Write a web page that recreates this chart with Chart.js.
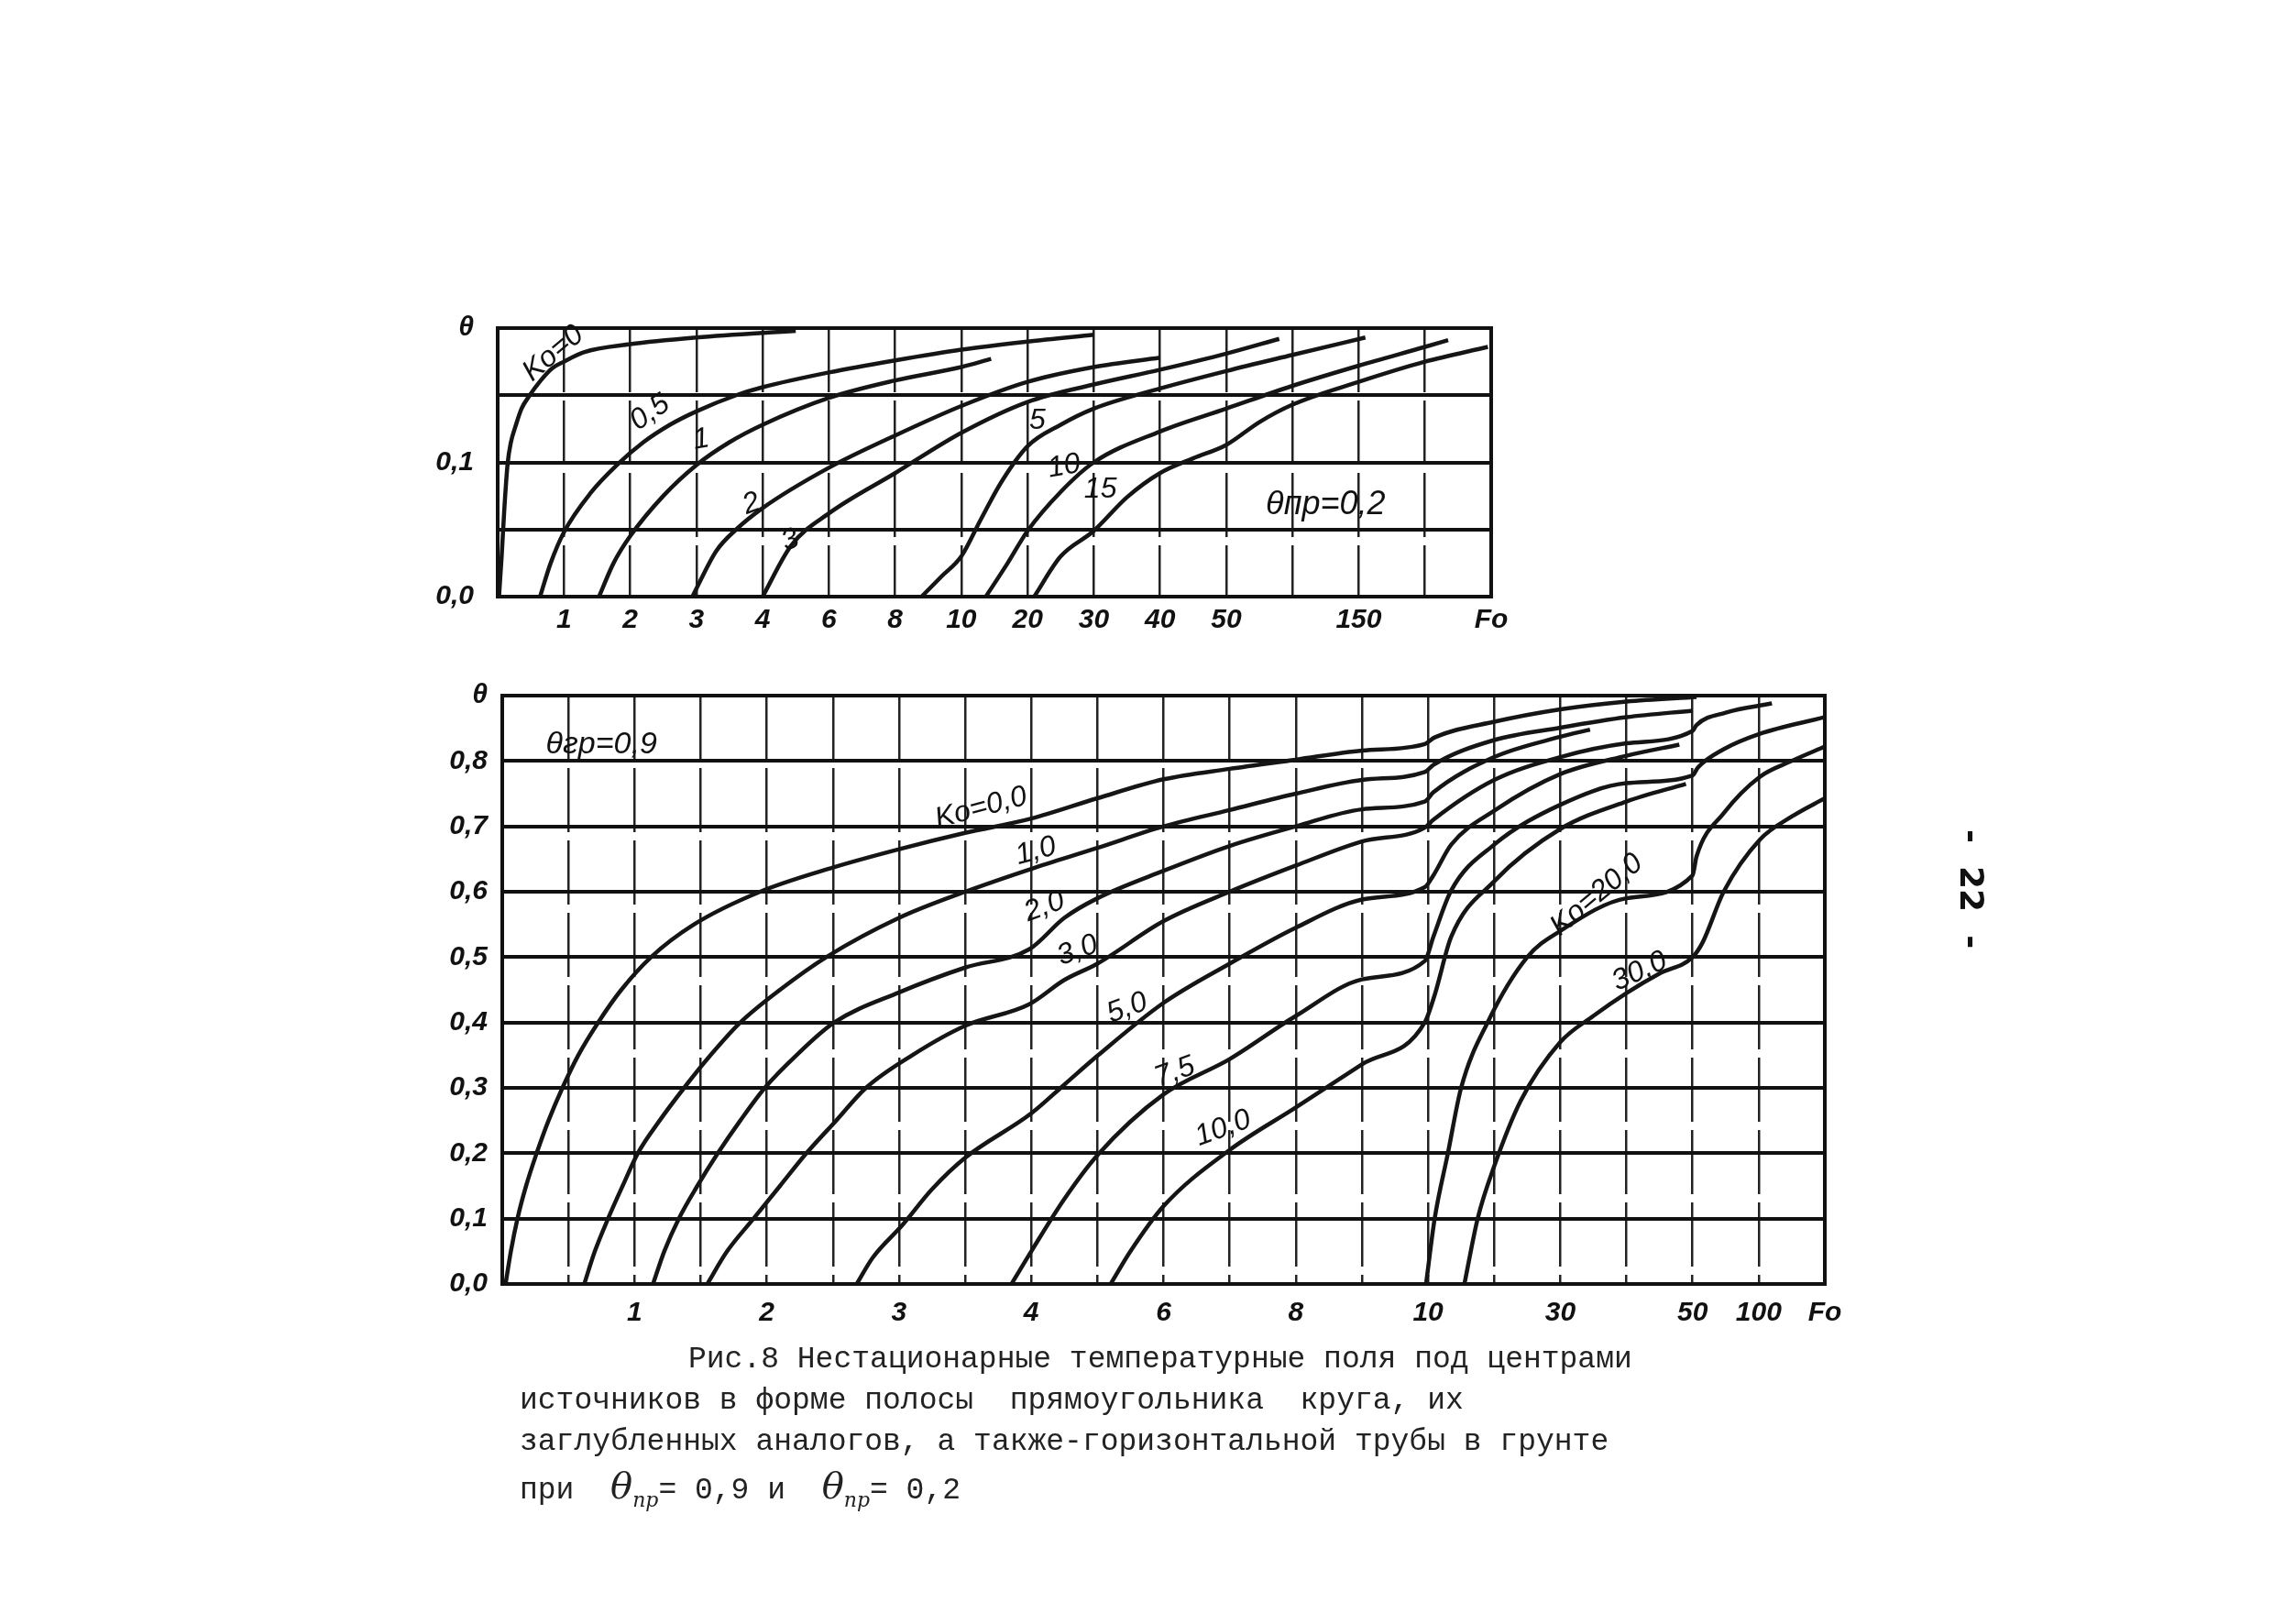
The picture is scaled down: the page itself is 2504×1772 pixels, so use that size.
<!DOCTYPE html>
<html lang="ru">
<head>
<meta charset="utf-8">
<script src="https://cdn.jsdelivr.net/npm/chart.js@4.4.1/dist/chart.umd.min.js"></script>
<style>
  html, body { margin: 0; padding: 0; background: #fff; }
  #page { position: relative; width: 2504px; height: 1772px; overflow: hidden; background: #fff; }
  canvas { position: absolute; left: 0; top: 0; }
  .cap { position: absolute; font-family: "Liberation Mono", "DejaVu Sans Mono", monospace; font-size: 33px; color: #222; white-space: pre; }
  .th { font-family: "DejaVu Serif", serif; font-style: italic; font-size: 40px; }
  .th sub { font-size: 22px; }
  #pnum { position: absolute; left: 2172px; top: 905px; font-family: "DejaVu Sans", sans-serif; font-size: 36px; font-weight: bold; transform: rotate(90deg); transform-origin: left top; white-space: pre; color: #111; }
</style>
</head>
<body>
<div id="page">
  <canvas id="topChart" width="2504" height="1772"></canvas>
  <canvas id="bottomChart" width="2504" height="1772"></canvas>
  <div class="cap" style="left:751px; top:1465px;">Рис.8 Нестационарные температурные поля под центрами</div>
  <div class="cap" style="left:567px; top:1510px;">источников в форме полосы  прямоугольника  круга, их</div>
  <div class="cap" style="left:567px; top:1555px;">заглубленных аналогов, а также-горизонтальной трубы в грунте</div>
  <div class="cap" style="left:567px; top:1598px;">при  <span class="th">θ<sub>пр</sub></span>= 0,9 и  <span class="th">θ<sub>пр</sub></span>= 0,2</div>
  <div id="pnum">-  22  -</div>
</div>
<script>
// x values are positions along the Fo axis in grid cells (the axis is not uniform)
// ---- upper chart, θпр = 0,2 ----
const topXLabels = ['', '1', '2', '3', '4', '6', '8', '10', '20', '30', '40', '50', '', '150', '', 'Fo'];
const topYLabels = ['0,0', '', '0,1', '', 'θ'];

const topKo0 = [[0.02,0],[0.06,0.03],[0.1,0.065],[0.15,0.099],[0.2,0.115],[0.27,0.127],[0.36,0.14],[0.47,0.149],[0.65,0.161],[0.82,0.17],[1.0,0.175],[1.3,0.182],[2.0,0.188],[3.0,0.193],[4.5,0.198]];
const topKo05 = [[0.64,0],[0.8,0.025],[1.0,0.048],[1.4,0.077],[1.8,0.098],[2.2,0.115],[2.6,0.128],[3.0,0.138],[3.6,0.15],[4.0,0.156],[5.0,0.167],[6.0,0.176],[7.0,0.184],[8.0,0.19],[9.0,0.195]];
const topKo1 = [[1.53,0],[1.75,0.025],[2.0,0.045],[2.5,0.075],[3.0,0.098],[3.5,0.115],[4.0,0.128],[5.0,0.148],[6.0,0.161],[7.0,0.171],[7.45,0.177]];
const topKo2 = [[2.94,0],[3.3,0.034],[3.6,0.05],[4.0,0.066],[5.0,0.096],[6.0,0.12],[7.0,0.142],[8.0,0.16],[9.0,0.171],[10.0,0.178]];
const topKo3 = [[4.0,0],[4.43,0.038],[5.0,0.062],[6.0,0.092],[7.0,0.122],[8.0,0.145],[9.0,0.158],[10.0,0.169],[11.0,0.181],[11.8,0.192]];
const topKo5 = [[6.4,0],[6.7,0.015],[7.0,0.03],[7.3,0.058],[7.6,0.085],[8.0,0.112],[8.5,0.128],[9.0,0.14],[10.0,0.155],[11.0,0.168],[12.0,0.18],[13.1,0.193]];
const topKo10 = [[7.37,0],[7.7,0.025],[8.0,0.049],[8.5,0.078],[9.0,0.1],[10.0,0.123],[11.0,0.14],[12.0,0.157],[13.0,0.172],[14.0,0.186],[14.35,0.191]];
const topKo15 = [[8.1,0],[8.5,0.03],[9.0,0.049],[9.5,0.074],[10.0,0.092],[10.5,0.103],[11.0,0.113],[11.5,0.13],[12.0,0.143],[13.0,0.16],[14.0,0.175],[14.95,0.186]];

// ---- lower chart, θгр = 0,9 ----
const bottomXLabels = ['', '', '1', '', '2', '', '3', '', '4', '', '6', '', '8', '', '10', '', '30', '', '50', '100', 'Fo'];
const bottomYLabels = ['0,0', '0,1', '0,2', '0,3', '0,4', '0,5', '0,6', '0,7', '0,8', 'θ'];

const bottomKo0 = [[0.05,0],[0.13,0.05],[0.23,0.1],[0.36,0.15],[0.52,0.2],[0.7,0.25],[0.91,0.3],[1.15,0.35],[1.45,0.4],[1.8,0.45],[2.25,0.5],[2.9,0.55],[3.9,0.6],[5,0.637],[6,0.665],[7,0.69],[8,0.712],[9,0.743],[10,0.772],[11,0.788],[12,0.802],[13,0.816],[13.95,0.826],[14.1,0.836],[15,0.86],[16,0.879],[17,0.891],[18.06,0.898]];
const bottomKo1 = [[1.24,0],[1.4,0.05],[1.6,0.1],[1.82,0.15],[2.05,0.2],[2.38,0.25],[2.75,0.3],[3.15,0.35],[3.6,0.4],[4.2,0.45],[4.9,0.5],[6,0.56],[7,0.6],[8,0.635],[9,0.667],[10,0.7],[11,0.725],[12,0.75],[13,0.771],[13.95,0.783],[14.08,0.794],[15,0.832],[16,0.851],[17,0.867],[18,0.877]];
const bottomKo2 = [[2.28,0],[2.45,0.05],[2.67,0.1],[2.95,0.15],[3.26,0.2],[3.6,0.25],[3.97,0.3],[4.45,0.35],[5.02,0.4],[6,0.446],[7,0.484],[7.97,0.512],[8.5,0.56],[9,0.59],[10,0.632],[11,0.67],[12,0.7],[13,0.726],[13.95,0.738],[14.08,0.752],[15,0.806],[16,0.837],[16.45,0.848]];
const bottomKo3 = [[3.1,0],[3.4,0.05],[3.8,0.1],[4.2,0.15],[4.6,0.2],[5.05,0.25],[5.5,0.3],[6.2,0.35],[7,0.395],[7.97,0.428],[8.5,0.465],[9,0.49],[10,0.555],[11,0.6],[12,0.64],[13,0.677],[13.95,0.698],[14.08,0.71],[15,0.771],[16,0.806],[17,0.827],[18,0.846],[18.06,0.855],[18.5,0.874],[19.2,0.888]];
const bottomKo5 = [[5.36,0],[5.6,0.04],[6.05,0.09],[6.5,0.145],[7,0.193],[8,0.261],[8.5,0.305],[9,0.349],[10,0.43],[11,0.49],[12,0.545],[13,0.588],[13.95,0.607],[14.08,0.625],[14.35,0.672],[15,0.724],[16,0.78],[17,0.808],[17.8,0.825]];
const bottomKo75 = [[7.7,0],[8,0.05],[8.5,0.13],[9,0.197],[10,0.29],[11,0.344],[12,0.41],[13,0.466],[13.95,0.494],[14.08,0.531],[14.35,0.602],[15,0.672],[16,0.733],[17,0.766],[18,0.778],[18.08,0.79],[18.47,0.818],[19,0.841],[20,0.867]];
const bottomKo10 = [[9.2,0],[9.5,0.05],[10,0.119],[11,0.205],[12,0.27],[13,0.336],[13.95,0.4],[14.1,0.442],[14.35,0.531],[15,0.616],[16,0.696],[17,0.738],[17.9,0.765]];
const bottomKo20 = [[13.97,0],[14.1,0.1],[14.3,0.2],[14.5,0.3],[14.9,0.4],[15.5,0.5],[16,0.54],[17,0.59],[18,0.625],[18.06,0.654],[18.47,0.72],[19.02,0.776],[19.5,0.8],[20,0.822]];
const bottomKo30 = [[14.55,0],[14.75,0.1],[15,0.18],[15.4,0.28],[16,0.37],[16.5,0.41],[17,0.445],[17.5,0.475],[18,0.5],[18.15,0.522],[18.47,0.6],[19.02,0.68],[19.5,0.715],[20,0.743]];

// curve captions written on the drawing (placed in axis units)
const topNotes = [
  {text: 'Ko=0', x: 0.84, y: 0.181, rot: -40},
  {text: '0,5', x: 2.3, y: 0.137, rot: -35},
  {text: '1', x: 3.07, y: 0.117, rot: -10},
  {text: '2', x: 3.83, y: 0.069, rot: -20},
  {text: '3', x: 4.42, y: 0.042, rot: -20},
  {text: '5', x: 8.15, y: 0.131, rot: 0},
  {text: '10', x: 8.55, y: 0.097, rot: -10},
  {text: '15', x: 9.1, y: 0.08, rot: 0},
  {text: 'θпр=0,2', x: 12.5, y: 0.068, rot: 0, size: 36}
];
const bottomNotes = [
  {text: 'θгр=0,9', x: 1.5, y: 0.825, rot: 0, size: 34},
  {text: 'Ko=0,0', x: 7.24, y: 0.728, rot: -15},
  {text: '1,0', x: 8.07, y: 0.662, rot: -15},
  {text: '2,0', x: 8.2, y: 0.577, rot: -20},
  {text: '3,0', x: 8.7, y: 0.51, rot: -20},
  {text: '5,0', x: 9.45, y: 0.422, rot: -20},
  {text: '7,5', x: 10.17, y: 0.324, rot: -20},
  {text: '10,0', x: 10.9, y: 0.238, rot: -20},
  {text: 'Ko=20,0', x: 16.55, y: 0.595, rot: -40},
  {text: '30,0', x: 17.2, y: 0.478, rot: -25}
];

const notesPlugin = {
  id: 'notes',
  afterDatasetsDraw(chart, args, opts) {
    const {ctx, scales: {x, y}} = chart;
    (opts.items || []).forEach(n => {
      ctx.save();
      ctx.translate(x.getPixelForValue(n.x), y.getPixelForValue(n.y));
      ctx.rotate(n.rot * Math.PI / 180);
      ctx.font = 'italic ' + (n.size || 32) + 'px "Liberation Sans", sans-serif';
      ctx.fillStyle = '#111';
      ctx.textAlign = 'center';
      ctx.textBaseline = 'middle';
      ctx.fillText(n.text, 0, 0);
      ctx.restore();
    });
  }
};

const framePlugin = {
  id: 'frame',
  afterDraw(chart) {
    const {ctx, chartArea: a} = chart;
    ctx.save();
    ctx.strokeStyle = '#111';
    ctx.lineWidth = 4;
    ctx.strokeRect(a.left, a.top, a.right - a.left, a.bottom - a.top);
    ctx.restore();
  }
};

function lineSet(points) {
  return {
    data: points.map(p => ({x: p[0], y: p[1]})),
    borderColor: '#151515',
    borderWidth: 4.5,
    pointRadius: 0,
    fill: false,
    cubicInterpolationMode: 'monotone'
  };
}

function makeChart(id, sets, xLabels, yLabels, yMax, yStep, box, notes) {
  const tickFont = {family: '"Liberation Sans", sans-serif', size: 30, style: 'italic', weight: 'bold'};
  return new Chart(document.getElementById(id), {
    type: 'line',
    data: {datasets: sets.map(lineSet)},
    plugins: [notesPlugin, framePlugin],
    options: {
      responsive: false,
      animation: false,
      events: [],
      layout: {padding: {left: box.left - 120, right: 2504 - box.right, top: box.top, bottom: 1772 - box.bottom - 70}},
      plugins: {legend: {display: false}, tooltip: {enabled: false}, notes: {items: notes}},
      scales: {
        x: {
          type: 'linear', min: 0, max: xLabels.length - 1,
          afterFit: s => { s.height = 70; },
          ticks: {
            stepSize: 1, autoSkip: false, maxRotation: 0, padding: box.xPad,
            color: '#111', font: tickFont,
            callback: v => xLabels[Math.round(v)] || ''
          },
          grid: {color: '#222', lineWidth: 2.5, drawTicks: false},
          border: {display: false, dash: [70, 9]}
        },
        y: {
          min: 0, max: yMax,
          afterFit: s => { s.width = 120; },
          ticks: {
            stepSize: yStep, autoSkip: false, padding: box.yPad,
            color: '#111', font: tickFont,
            callback: v => yLabels[Math.round(v / yStep)] || ''
          },
          grid: {color: '#111', lineWidth: 4, drawTicks: false},
          border: {display: false}
        }
      }
    }
  });
}

makeChart('topChart',
  [topKo0, topKo05, topKo1, topKo2, topKo3, topKo5, topKo10, topKo15],
  topXLabels, topYLabels, 0.2, 0.05,
  {left: 543, right: 1627, top: 358, bottom: 651, xPad: 8, yPad: 26},
  topNotes);

makeChart('bottomChart',
  [bottomKo0, bottomKo1, bottomKo2, bottomKo3, bottomKo5, bottomKo75, bottomKo10, bottomKo20, bottomKo30],
  bottomXLabels, bottomYLabels, 0.9, 0.1,
  {left: 548, right: 1991, top: 759, bottom: 1401, xPad: 14, yPad: 16},
  bottomNotes);
</script>
</body>
</html>
